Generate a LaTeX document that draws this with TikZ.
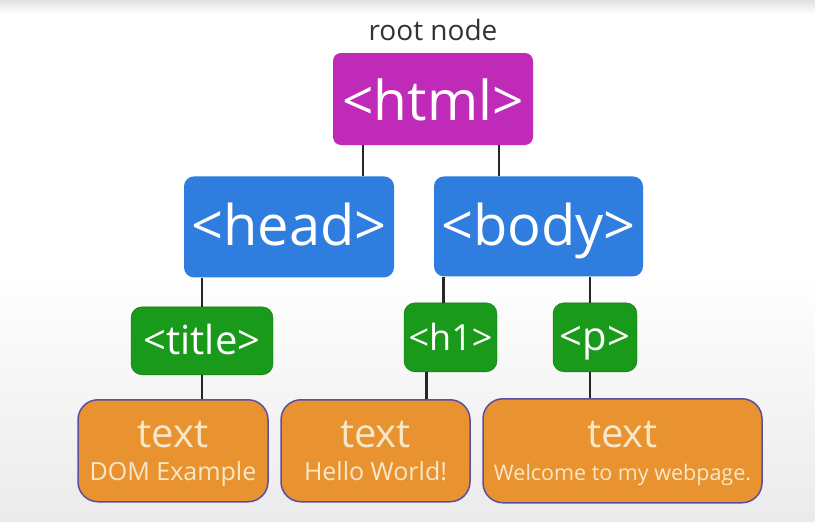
\documentclass[tikz,border=0pt]{standalone}
\usepackage{fontspec}
\setmainfont{Open Sans}
\usetikzlibrary{positioning}

\definecolor{rootpurple}{RGB}{192,42,184}
\definecolor{tagblue}{RGB}{47,125,222}
\definecolor{taggreen}{RGB}{26,154,26}
\definecolor{textorange}{RGB}{232,146,48}
\definecolor{textedge}{RGB}{92,78,160}
\definecolor{textcream}{RGB}{248,232,200}

\begin{document}
\begin{tikzpicture}[x=1pt, y=1pt,
                    rootnode/.style={rectangle, rounded corners=8pt, fill=rootpurple, text=white, inner sep=0pt, text height=42pt, text depth=0pt, font=\fontsize{55}{60}\selectfont},
                    tagnode/.style={rectangle, rounded corners=10pt, fill=tagblue, text=white, inner sep=0pt, text height=38pt, text depth=0pt, font=\fontsize{56}{60}\selectfont},
                    leafnode/.style={rectangle, rounded corners=11pt, fill=taggreen, draw=taggreen!70!black, text=white, inner sep=0pt, text height=27pt, text depth=0pt, font=\fontsize{40}{44}\selectfont},
                    textnode/.style={rectangle, rounded corners=20pt, fill=textorange, draw=textedge, line width=1.5pt, text=textcream, inner sep=0pt, text depth=0pt, align=center, font=\fontsize{40}{33}\selectfont},
                    link/.style={line width=2.5pt, black!85}]
                    \useasboundingbox (0,0) rectangle (815,-522);
                    \fill[white] (0,0) rectangle (815,-522);
                    \shade[top color=white, bottom color=black!8] (0,-270) rectangle (815,-522);
                    \shade[top color=black!12, bottom color=white] (0,0) rectangle (815,-14);

                    \node[rootnode, minimum width=200pt, minimum height=92pt] (html) at (433,-99) {<html>};
                    \node[text=black!80, inner sep=0pt, text depth=0pt, font=\fontsize{28}{30}\selectfont] (rootlabel) [above=12pt of html] {root node};
                    \node[tagnode, minimum width=210pt, minimum height=101pt] (head) [below=31pt of html, xshift=-144pt] {<head>};
                    \node[tagnode, minimum width=209pt, minimum height=100pt] (body) [below=31pt of html, xshift=105.5pt] {<body>};
                    \node[leafnode, minimum width=142pt, minimum height=68pt] (title) [below=29pt of head, xshift=-87pt] {<title>};
                    \node[leafnode, minimum width=93pt, minimum height=69pt, font=\fontsize{36}{40}\selectfont] (h1) [below=26pt of body, xshift=-88pt] {<h1>};
                    \node[leafnode, minimum width=84pt, minimum height=69pt] (p) [below=26pt of body, xshift=56.5pt] {<p>};
                    \node[textnode, minimum width=190pt, minimum height=102pt] (text1) [below=24pt of title, xshift=-29pt] {text\\{\fontsize{25}{26}\selectfont DOM Example}};
                    \node[textnode, minimum width=189pt, minimum height=102pt] (text2) [below=27pt of h1, xshift=-75pt] {text\\{\fontsize{25}{26}\selectfont Hello World!}};
                    \node[textnode, minimum width=279pt, minimum height=104pt] (text3) [below=26pt of p, xshift=27.5pt] {text\\{\fontsize{21.5}{24}\selectfont Welcome to my webpage.}};

                    \draw[link] ([xshift=-70pt]html.south) -- ([xshift=-70pt]html.south |- head.north);
                    \draw[link] ([xshift=66pt]html.south) -- ([xshift=66pt]html.south |- body.north);
                    \draw[link] (title.north |- head.south) -- (title.north);
                    \draw[link] ([xshift=-7pt]h1.north |- body.south) -- ([xshift=-7pt]h1.north);
                    \draw[link] ([xshift=-5pt]p.north |- body.south) -- ([xshift=-5pt]p.north);
                    \draw[link] (title.south) -- (title.south |- text1.north);
                    \draw[link] ([xshift=-24pt]h1.south) -- ([xshift=-24pt]h1.south |- text2.north);
                    \draw[link] ([xshift=-5pt]p.south) -- ([xshift=-5pt]p.south |- text3.north);
                    \end{tikzpicture}
\end{document}
